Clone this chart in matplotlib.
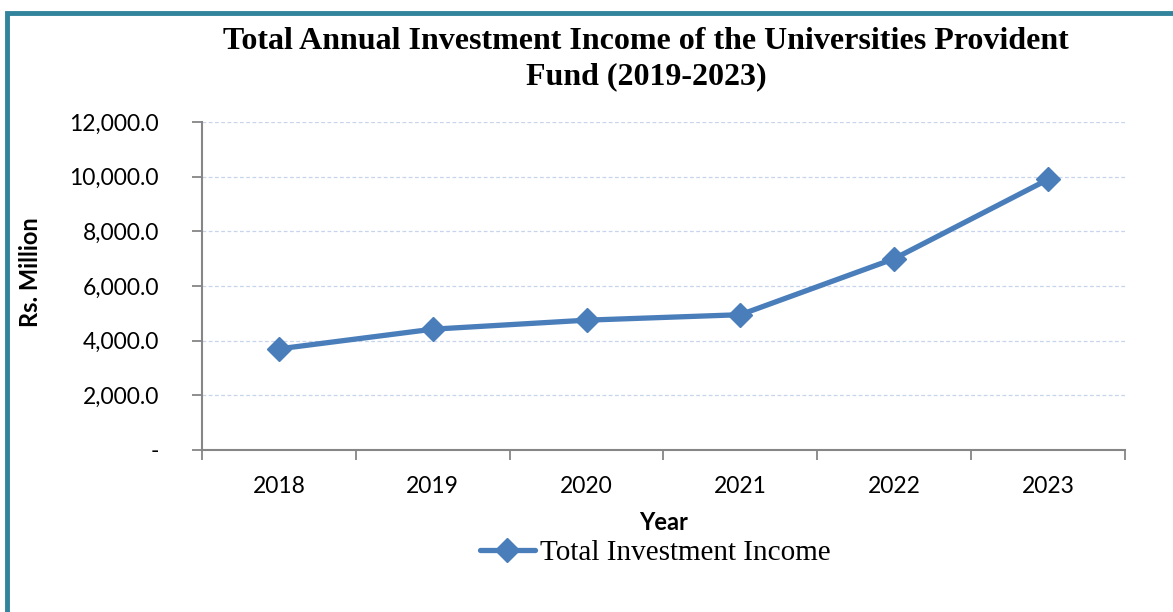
import matplotlib
matplotlib.use("Agg")
import matplotlib.pyplot as plt
from matplotlib.patches import Rectangle
from matplotlib.ticker import FixedLocator

years = ["2018", "2019", "2020", "2021", "2022", "2023"]
income = [3700, 4420, 4750, 4950, 7000, 9900]
yticks = [0, 2000, 4000, 6000, 8000, 10000, 12000]
ytick_labels = ["-", "2,000.0", "4,000.0", "6,000.0", "8,000.0", "10,000.0", "12,000.0"]

fig = plt.figure(figsize=(11.73, 6.12), dpi=100)
ax = fig.add_axes([202/1173, 1 - 450/612, (1125-202)/1173, (450-122)/612])

# outer teal frame (partially visible)
fig.patches.append(Rectangle((7/1173, -0.1), 1.2, 1 - 13/612 + 0.1, transform=fig.transFigure,
                             fill=False, edgecolor="#31849B", linewidth=3.5, zorder=0))

x = list(range(len(years)))
ax.plot(x, income, color="#4A7EBB", linewidth=3.8, marker="D", markersize=12,
        label="Total Investment Income", solid_capstyle="round", zorder=3)

ax.set_xlim(-0.5, len(years) - 0.5)
ax.set_ylim(0, 12000)
ax.set_yticks(yticks)
ax.set_yticklabels(ytick_labels, fontsize=16.5, family="Lato")
ax.yaxis.grid(True, color="#C6D4EC", linestyle=(0, (3, 2)), linewidth=0.9)
ax.set_axisbelow(True)

ax.xaxis.set_major_locator(FixedLocator([i - 0.5 for i in range(len(years) + 1)]))
ax.xaxis.set_minor_locator(FixedLocator(x))
ax.set_xticklabels([])
ax.set_xticklabels(years, minor=True, fontsize=16.5, family="Lato")
ax.tick_params(axis="x", which="major", length=7, width=1.3, color="#868686", direction="out")
ax.tick_params(axis="x", which="minor", length=0, pad=19)
ax.tick_params(axis="y", length=7, width=1.3, color="#868686", direction="out", pad=24)

for s in ["top", "right"]:
    ax.spines[s].set_visible(False)
for s in ["left", "bottom"]:
    ax.spines[s].set_color("#868686")
    ax.spines[s].set_linewidth(1.5)

fig.text(646/1173, 1 - 59/612, "Total Annual Investment Income of the Universities Provident\nFund (2019-2023)",
         ha="center", va="center", fontsize=23, fontweight="bold", family="Liberation Serif",
         linespacing=1.3)
fig.text(30/1173, 1 - 272/612, "Rs. Million", rotation=90, ha="center", va="center",
         fontsize=17, fontweight="bold", family="Lato")
fig.text(664/1173, 1 - 523/612, "Year", ha="center", va="center",
         fontsize=17, fontweight="bold", family="Lato")

leg = fig.legend(loc="center", bbox_to_anchor=(655/1173, 1 - 553/612), frameon=False,
                 prop={"family": "Liberation Serif", "size": 21}, handlelength=1.9,
                 handletextpad=0.15, borderpad=0)

fig.savefig("out.png", dpi=100)
